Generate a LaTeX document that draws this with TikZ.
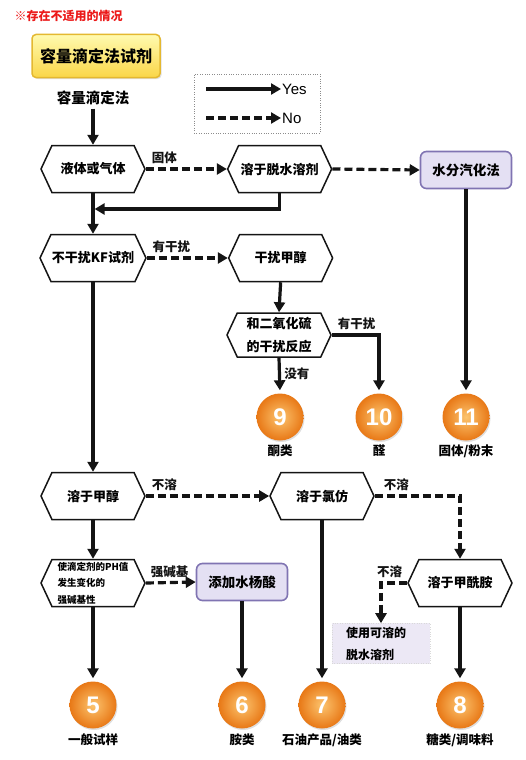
\documentclass[tikz,border=0pt]{standalone}
\usepackage{fontspec}
\setmainfont{Noto Sans CJK SC}
\newfontfamily\latinsans{Liberation Sans}
\usetikzlibrary{arrows.meta, positioning, shapes.symbols, shadows}
\definecolor{RichBlack}{RGB}{20,20,20}
\definecolor{AlertRed}{RGB}{235,25,25}
\definecolor{GoldEdge}{RGB}{228,184,48}
\definecolor{LiteGold}{RGB}{255,250,175}
\definecolor{DeepGold}{RGB}{250,214,72}
\definecolor{LiteLilac}{RGB}{228,224,243}
\definecolor{Lilac}{RGB}{128,116,178}
\definecolor{PaleLilac}{RGB}{236,232,245}
\definecolor{BallOrange}{RGB}{232,120,22}
\definecolor{BallGlow}{RGB}{252,196,110}
\tikzset{%
  hexa/.style={%
    signal,%
    signal to=west and east,%
    signal pointer angle=130,%
    draw=RichBlack,%
    line width=1.5pt,%
    fill=white,%
    minimum width=104pt,%
    minimum height=47pt,%
    inner sep=1pt,%
    font={\fontsize{13}{23}\selectfont\bfseries},%
    align=center%
  },
  title_box/.style={%
    rectangle,%
    rounded corners=4pt,%
    draw=GoldEdge,%
    line width=1.5pt,%
    top color=LiteGold,%
    bottom color=DeepGold,%
    drop shadow={shadow xshift=1.5pt, shadow yshift=-1.5pt, opacity=0.25},%
    minimum width=128pt,%
    minimum height=43pt,%
    font={\fontsize{16}{18}\selectfont\bfseries},%
  },
  method_box/.style={%
    rectangle,%
    rounded corners=6pt,%
    draw=Lilac,%
    line width=1.6pt,%
    fill=LiteLilac,%
    minimum width=91pt,%
    minimum height=37pt,%
    font={\fontsize{13.5}{15}\selectfont\bfseries},%
  },
  note_box/.style={%
    rectangle,%
    draw=black!15,%
    dotted,%
    fill=PaleLilac,%
    text width=70pt,%
    inner xsep=14pt,%
    minimum height=37pt,%
    align=left,%
    font={\fontsize{12}{22}\selectfont\bfseries},%
  },
  legend_box/.style={%
    rectangle,%
    draw=black!45,%
    dotted,%
    minimum width=126pt,%
    minimum height=59pt,%
  },
  ball/.style={%
    circle,%
    minimum size=47pt,%
    inner color=BallGlow,%
    outer color=BallOrange,%
    drop shadow={shadow xshift=1pt, shadow yshift=-1.5pt, opacity=0.25},%
    text=white,%
    font={\latinsans\fontsize{24}{24}\selectfont\bfseries},%
  },
  annotate/.style={%
    font={\fontsize{12.5}{14}\selectfont\bfseries},%
  },
  flow/.style={%
    color=RichBlack,%
    line width=3.2pt,%
    line join=miter,%
  },
  no_flow/.style={%
    flow,%
    dash pattern=on 8pt off 4pt,%
  },
  arrow/.style={-{Triangle[length=10pt, width=11pt]}},
}

\begin{document}
\begin{tikzpicture}[x=1pt, y=1pt]
    \useasboundingbox (0, 0) rectangle (526, -760);

    \node [anchor=west, text=AlertRed, font={\fontsize{12}{13}\selectfont\bfseries}] (Note) at (11, -16) {※存在不适用的情况};
    \node [title_box] (Title) at (96, -56) {容量滴定法试剂};
    \node [annotate, font={\fontsize{14.5}{16}\selectfont\bfseries}] (Method) at (93, -98) {容量滴定法};

    % legend
    \node [legend_box] (Legend) at (257, -103.5) {};
    \coordinate (yes_from) at (206, -89);
    \coordinate (yes_to) at (281, -89);
    \coordinate (no_from) at (206, -118);
    \coordinate (no_to) at (281, -118);
    \node [anchor=west, inner sep=1pt, font={\latinsans\fontsize{15}{16}\selectfont}] (YesText) at (yes_to) {Yes};
    \node [anchor=west, inner sep=1pt, font={\latinsans\fontsize{15}{16}\selectfont}] (NoText) at (no_to) {No};

    % first rows
    \node [hexa] (Phase) at (93, -169) {液体或气体};
    \node [hexa, right = 81 of Phase] (Dehydrate) {溶于脱水溶剂};
    \node [method_box] (Vaporize) at (466, -170) {水分汽化法};
    \coordinate (merge) at (93, -209);
    \node [hexa] (KFCheck) at (93, -258) {不干扰KF试剂};
    \node [hexa, right = 81 of KFCheck] (Methanol) {干扰甲醇};
    \node [hexa, minimum height=44pt] (SO2Check) at (279, -335) {和二氧化硫\\的干扰反应};

    \node [ball] (Ball9) at (280, -417) {9};
    \node [ball] (Ball10) at (379, -417) {10};
    \node [ball] (Ball11) at (466, -417) {11};
    \node [annotate, below = 1 of Ball9] (Ketone) {酮类};
    \node [annotate, below = 1 of Ball10] (Aldehyde) {醛};
    \node [annotate, below = 1 of Ball11] (Solid) {固体/粉末};

    % lower rows
    \node [hexa] (MeOHSol) at (93, -496) {溶于甲醇};
    \node [hexa] (Chloroform) at (322, -496) {溶于氯仿};
    \node [hexa, font={\fontsize{9.5}{16.5}\selectfont\bfseries}, align=left] (BaseCheck) at (93, -583) {使滴定剂的PH值\\发生变化的\\强碱基性};
    \node [method_box] (Salicylic) at (242, -582) {添加水杨酸};
    \node [hexa] (Formamide) at (460, -583) {溶于甲酰胺};
    \node [note_box] (Soluble) at (381, -643.5) {使用可溶的\\脱水溶剂};

    \node [ball] (Ball5) at (93, -705) {5};
    \node [ball] (Ball6) at (242, -705) {6};
    \node [ball] (Ball7) at (322, -705) {7};
    \node [ball] (Ball8) at (460, -705) {8};
    \node [annotate, below = 1 of Ball5] (General) {一般试样};
    \node [annotate, below = 1 of Ball6] (Amine) {胺类};
    \node [annotate, below = 1 of Ball7] (Petrol) {石油产品/油类};
    \node [annotate, below = 1 of Ball8] (Sugar) {糖类/调味料};

    % legend arrows
    \draw [arrow, flow] (yes_from) -- (yes_to);
    \draw [arrow, no_flow] (no_from) -- (no_to);

    % connectors
    \draw [arrow, flow]
      (Method.south)
      --
      (Phase.north);
    \draw [arrow, no_flow]
      (Phase.east)
      node [annotate, above right, xshift=1pt] {固体}
      --
      (Dehydrate.west);
    \draw [arrow, no_flow]
      (Dehydrate.east)
      --
      (Vaporize.west);
    \draw [arrow, flow, shorten >=1.6pt]
      (Dehydrate.south)
      |-
      (merge);
    \draw [arrow, flow]
      (Phase.south)
      --
      (KFCheck.north);
    \draw [arrow, no_flow]
      (KFCheck.east)
      node [annotate, above right, xshift=1pt] {有干扰}
      --
      (Methanol.west);
    \draw [arrow, flow]
      (Methanol.south)
      --
      (SO2Check.north);
    \draw [arrow, flow, shorten >=3pt]
      (SO2Check.east)
      node [annotate, above right, xshift=1pt] {有干扰}
      -|
      (Ball10.north);
    \draw [arrow, flow, shorten >=3pt]
      (SO2Check.south)
      --
      node [annotate, right, pos=0.45] {没有}
      (Ball9.north);
    \draw [arrow, flow, shorten >=3pt]
      (Vaporize.south)
      --
      (Ball11.north);
    \draw [arrow, flow]
      (KFCheck.south)
      --
      (MeOHSol.north);
    \draw [arrow, no_flow]
      (MeOHSol.east)
      node [annotate, above right, xshift=1pt] {不溶}
      --
      (Chloroform.west);
    \draw [arrow, no_flow]
      (Chloroform.east)
      node [annotate, above right, xshift=4pt] {不溶}
      -|
      (Formamide.north);
    \draw [arrow, flow, shorten >=3pt]
      (Chloroform.south)
      --
      (Ball7.north);
    \draw [arrow, flow]
      (MeOHSol.south)
      --
      (BaseCheck.north);
    \draw [arrow, no_flow]
      (BaseCheck.east)
      node [annotate, above right] {强碱基}
      --
      (Salicylic.west);
    \draw [arrow, flow, shorten >=3pt]
      (Salicylic.south)
      --
      (Ball6.north);
    \draw [arrow, flow, shorten >=3pt]
      (BaseCheck.south)
      --
      (Ball5.north);
    \draw [arrow, no_flow]
      (Formamide.west)
      node [annotate, above left] {不溶}
      -|
      (Soluble.north);
    \draw [arrow, flow, shorten >=3pt]
      (Formamide.south)
      --
      (Ball8.north);
\end{tikzpicture}
\end{document}
